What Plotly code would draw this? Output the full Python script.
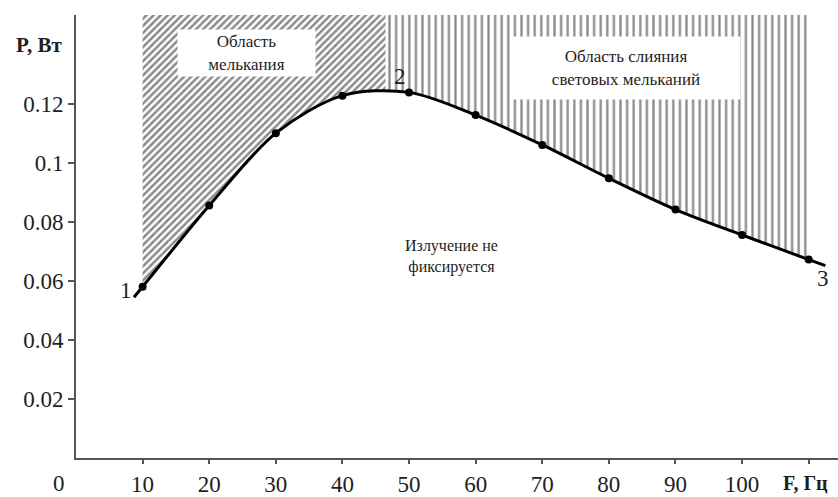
import plotly.graph_objects as go

# Measured radiation power versus modulation frequency
freq_hz = [10, 20, 30, 40, 50, 60, 70, 80, 90, 100, 110]
power_w = [0.058, 0.0855, 0.110, 0.1227, 0.1238, 0.1161, 0.106, 0.0947, 0.0841, 0.0755, 0.0672]

x_tick_vals = [10, 20, 30, 40, 50, 60, 70, 80, 90, 100, 110]
x_tick_text = ["10", "20", "30", "40", "50", "60", "70", "80", "90", "100", ""]
y_tick_vals = [0.02, 0.04, 0.06, 0.08, 0.10, 0.12]
y_tick_text = ["0.02", "0.04", "0.06", "0.08", "0.1", "0.12"]

# Border between the flicker zone and the flicker-fusion zone, Hz
fusion_border_hz = 46.5

X_MAX = 114.4
Y_MAX = 0.15
FONT = "Liberation Serif, Times New Roman, serif"
INK = "#1e1e1e"

# Short extensions of the curve beyond the first and last measurement
head = 0.13
tail = 0.25
x0 = freq_hz[0] - head * (freq_hz[1] - freq_hz[0])
y0 = power_w[0] - head * (power_w[1] - power_w[0])
x1 = freq_hz[-1] + tail * (freq_hz[-1] - freq_hz[-2])
y1 = power_w[-1] + tail * (power_w[-1] - power_w[-2])
curve_x = [x0] + freq_hz + [x1]
curve_y = [y0] + power_w + [y1]

fig = go.Figure()

# Flicker zone: diagonal hatching
fig.add_trace(go.Scatter(
    x=[freq_hz[0], fusion_border_hz, fusion_border_hz, freq_hz[0]],
    y=[0, 0, Y_MAX, Y_MAX],
    mode="none", fill="toself", fillcolor="white",
    fillpattern=dict(shape="/", size=5, solidity=0.5, fgcolor="#181818", bgcolor="white"),
    hoverinfo="skip", showlegend=False,
))

# Flicker-fusion zone: vertical hatching
fig.add_trace(go.Scatter(
    x=[fusion_border_hz, freq_hz[-1], freq_hz[-1], fusion_border_hz],
    y=[0, 0, Y_MAX, Y_MAX],
    mode="none", fill="toself", fillcolor="white",
    fillpattern=dict(shape="|", size=6.6, solidity=0.35, fgcolor="#181818", bgcolor="white"),
    hoverinfo="skip", showlegend=False,
))

# Curve, with the area below it left blank
fig.add_trace(go.Scatter(
    x=curve_x, y=curve_y, mode="lines",
    line=dict(color="black", width=3, shape="spline", smoothing=0.9),
    fill="tozeroy", fillcolor="white",
    hoverinfo="skip", showlegend=False,
))

fig.add_trace(go.Scatter(
    x=freq_hz, y=power_w, mode="markers",
    marker=dict(color="black", size=8),
    showlegend=False,
))


def label(x, y, text, size, ref="x", **kw):
    return dict(x=x, y=y, xref=ref, yref=ref.replace("x", "y"), text=text, showarrow=False,
                xanchor="center", yanchor="middle",
                font=dict(family=FONT, size=size, color=INK), **kw)


annotations = [
    label(25.6, 0.1372, "Область<br>мелькания", 17,
          bgcolor="white", width=137, height=46, borderpad=0),
    label(82.6, 0.1319, "Область слияния<br>световых мельканий", 17,
          bgcolor="white", width=228, height=62, borderpad=0),
    label(56.3, 0.0682, "Излучение не<br>фиксируется", 16),
    label(7.5, 0.0566, "1", 23),
    label(48.6, 0.1292, "2", 23),
    label(112.2, 0.0609, "3", 23),
    label(-0.0223, -0.057, "0", 23, ref="paper"),
    label(-0.0486, 0.933, "<b>P, Вт</b>", 21, ref="paper"),
    label(0.958, -0.056, "<b>F, Гц</b>", 20, ref="paper"),
]

fig.update_layout(
    width=838, height=497,
    margin=dict(l=76, r=0, t=15, b=31),
    paper_bgcolor="white", plot_bgcolor="white",
    showlegend=False,
    annotations=annotations,
    xaxis=dict(
        range=[0, X_MAX], showgrid=False, zeroline=False,
        showline=True, linecolor="#555", linewidth=2,
        tickmode="array", tickvals=x_tick_vals, ticktext=x_tick_text,
        ticks="outside", ticklen=4, tickcolor="#555", tickwidth=1.5,
        tickfont=dict(family=FONT, size=23, color=INK),
    ),
    yaxis=dict(
        range=[0, Y_MAX], showgrid=False, zeroline=False,
        showline=True, linecolor="#555", linewidth=2,
        tickmode="array", tickvals=y_tick_vals, ticktext=y_tick_text,
        ticks="outside", ticklen=6, tickcolor="#555", tickwidth=1.5,
        tickfont=dict(family=FONT, size=23, color=INK),
    ),
)

fig.write_html("out.html")
